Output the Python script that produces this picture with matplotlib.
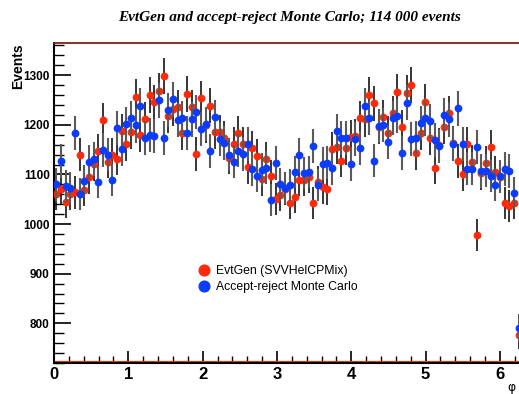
import numpy as np
import matplotlib
matplotlib.use("Agg")
import matplotlib.pyplot as plt
from matplotlib.lines import Line2D
from matplotlib.ticker import MultipleLocator

# 100 bins in phi from 0 to 2*pi
n_bins = 100
phi_min, phi_max = 0.0, 2 * np.pi

# EvtGen (SVVHelCPMix), events per bin
evtgen = [1060, 1071, 1045, 1061, 1064, 1140, 1069, 1094, 1121, 1147,
          1209, 1126, 1140, 1132, 1188, 1161, 1185, 1256, 1180, 1212,
          1260, 1246, 1269, 1299, 1218, 1232, 1235, 1184, 1262, 1235,
          1141, 1254, 1199, 1239, 1185, 1185, 1174, 1134, 1161, 1183,
          1161, 1115, 1153, 1138, 1090, 1132, 1097, 1050, 1059, 1071,
          1043, 1054, 1089, 1089, 1095, 1042, 1085, 1074, 1071, 1151,
          1155, 1128, 1153, 1175, 1177, 1214, 1211, 1260, 1244, 1195,
          1215, 1183, 1224, 1267, 1196, 1265, 1280, 1143, 1183, 1247,
          1173, 1114, 1160, 1196, 1224, 1163, 1127, 1100, 1162, 1126,
          978, 1102, 1124, 1155, 1105, 1095, 1042, 1037, 1042, 776]

# accept-reject Monte Carlo, events per bin
accrej = [1080, 1127, 1076, 1073, 1183, 1061, 1087, 1125, 1131, 1085,
          1149, 1140, 1089, 1194, 1151, 1202, 1214, 1199, 1239, 1173,
          1179, 1178, 1250, 1173, 1230, 1252, 1210, 1214, 1184, 1211,
          1226, 1191, 1202, 1147, 1215, 1171, 1163, 1140, 1126, 1148,
          1141, 1161, 1111, 1097, 1110, 1114, 1048, 1123, 1080, 1073,
          1079, 1105, 1139, 1103, 1105, 1158, 1079, 1122, 1124, 1113,
          1188, 1173, 1173, 1121, 1171, 1154, 1239, 1214, 1128, 1198,
          1200, 1165, 1214, 1218, 1143, 1245, 1171, 1173, 1204, 1213,
          1207, 1169, 1158, 1220, 1211, 1161, 1233, 1161, 1112, 1112,
          1155, 1107, 1108, 1097, 1079, 1096, 1111, 1107, 1062, 791]

labels = ["EvtGen (SVVHelCPMix)", "Accept-reject Monte Carlo"]
title = "EvtGen and accept-reject Monte Carlo; 114 000 events"

red = "#ff2a0a"
blue = "#0a3cff"

edges = np.linspace(phi_min, phi_max, n_bins + 1)
centers = 0.5 * (edges[:-1] + edges[1:])
evtgen = np.array(evtgen, dtype=float)
accrej = np.array(accrej, dtype=float)

fig = plt.figure(figsize=(5.19, 3.94), dpi=100)
ax = fig.add_axes([54 / 519, 31 / 394, 467 / 519, 320 / 394])

# points with poisson errors, red below blue
ax.errorbar(centers, evtgen, yerr=np.sqrt(evtgen), fmt="o", color=red,
            ecolor="black", elinewidth=1.1, markersize=4.6, capsize=0, zorder=3)
ax.errorbar(centers, accrej, yerr=np.sqrt(accrej), fmt="o", color=blue,
            ecolor="#5a5a5a", elinewidth=1.5, markersize=4.6, capsize=0, zorder=4)

ax.set_xlim(phi_min, phi_max)
ax.set_ylim(720, 1365)

ax.xaxis.set_major_locator(MultipleLocator(1))
ax.xaxis.set_minor_locator(MultipleLocator(0.2))
ax.yaxis.set_major_locator(MultipleLocator(100))
ax.yaxis.set_minor_locator(MultipleLocator(20))
ax.tick_params(axis="x", which="major", direction="in", length=9, width=1.2,
               labelsize=12, pad=3)
ax.tick_params(axis="x", which="minor", direction="in", length=5, width=1.0)
ax.tick_params(axis="y", which="major", direction="in", length=12, width=1.2,
               labelsize=8.5, pad=3)
ax.tick_params(axis="y", which="minor", direction="in", length=7, width=1.0)
for lab in ax.get_xticklabels() + ax.get_yticklabels():
    lab.set_fontweight("bold")
    lab.set_family("Liberation Sans")

for side in ["left", "bottom"]:
    ax.spines[side].set_linewidth(1.5)
ax.spines["top"].set_color("#7a2418")
ax.spines["top"].set_linewidth(1.3)
ax.spines["right"].set_visible(False)
# thin red frame line just above the bottom axis
ax.plot([0, 1], [0.005, 0.005], transform=ax.transAxes, color=red, lw=0.8,
        clip_on=False, zorder=2)

fig.text(289 / 519, 1 - 18 / 394, title, ha="center", va="center",
         family="Liberation Serif", fontweight="bold", fontstyle="italic",
         fontsize=11)
fig.text(18 / 519, 1 - 43 / 394, "Events", rotation=90, ha="center", va="top",
         family="Liberation Sans", fontweight="bold", fontsize=10)
fig.text(511 / 519, 1 - 387 / 394, "\u03c6", ha="center", va="center",
         family="DejaVu Sans", fontsize=9)

handles = [Line2D([], [], marker="o", linestyle="none", color=red, markersize=7.7),
           Line2D([], [], marker="o", linestyle="none", color=blue, markersize=7.7)]
ax.legend(handles, labels, loc="center left",
          bbox_to_anchor=(198 / 519, 1 - 279 / 394), bbox_transform=fig.transFigure,
          frameon=False, borderpad=0, borderaxespad=0, handlelength=0.95,
          handletextpad=0.5, labelspacing=0.35,
          prop={"family": "Liberation Sans", "size": 8.8})

fig.savefig("out.png", dpi=100)
